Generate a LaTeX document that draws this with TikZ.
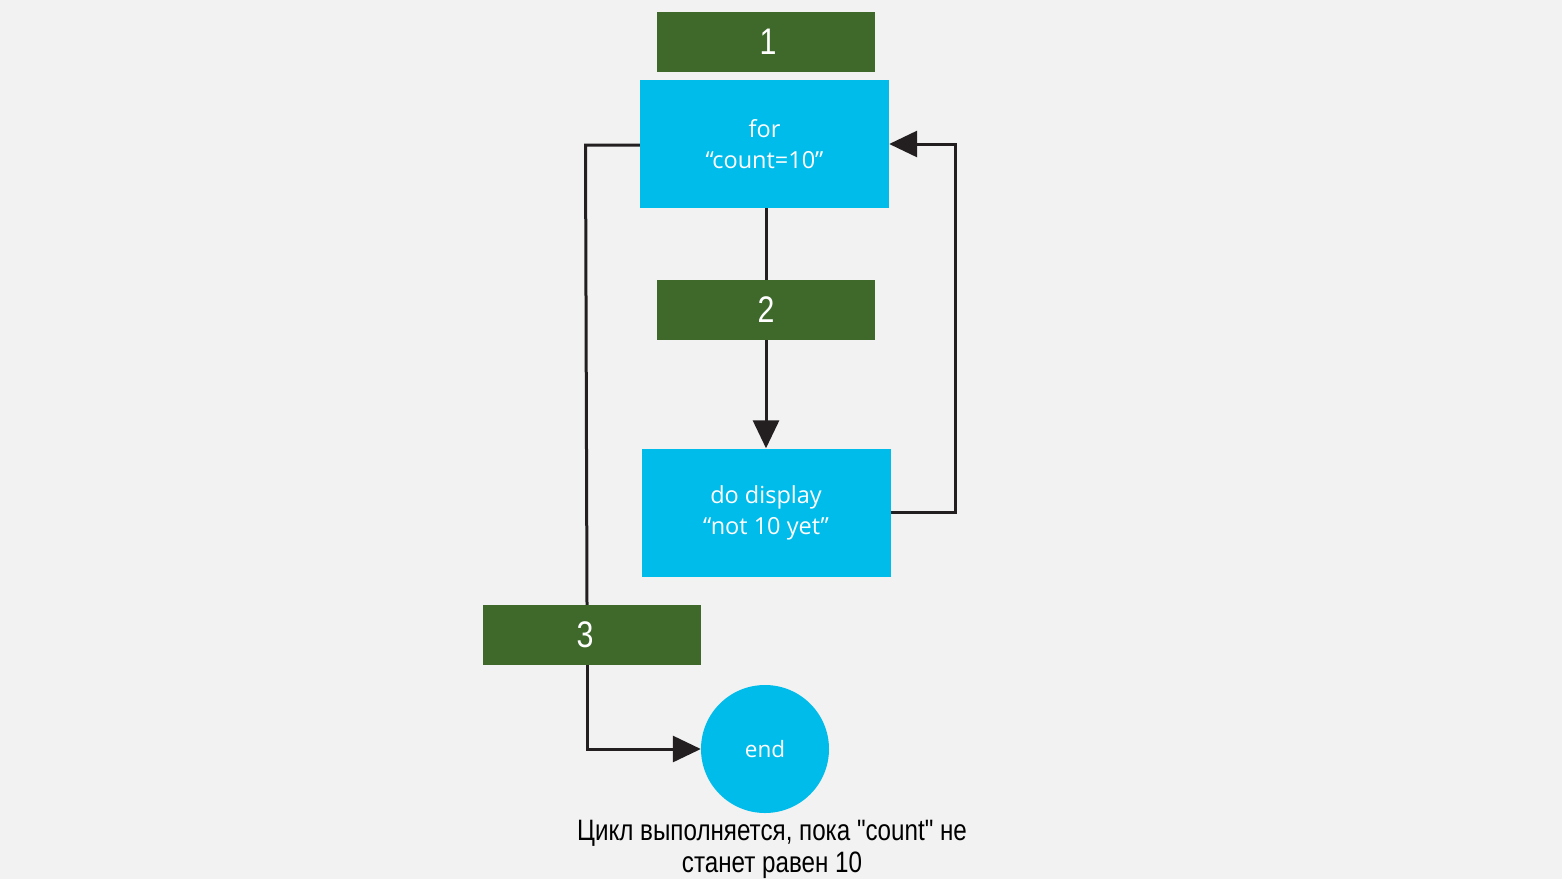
\documentclass[tikz,border=0pt]{standalone}
\usepackage{fontspec}
\setmainfont{Open Sans}
\newfontfamily\narrowfont[FakeStretch=0.82]{Liberation Sans}
\usetikzlibrary{arrows.meta,calc}
\definecolor{bgc}{HTML}{F2F2F2}
\definecolor{grn}{HTML}{3E692B}
\definecolor{cyn}{HTML}{00BCEB}
\definecolor{ln}{HTML}{231F20}
\tikzset{
  numbox/.style={fill=grn,minimum width=218pt,minimum height=60pt,inner sep=0pt,text=white,font=\narrowfont\fontsize{37}{40}\selectfont},
  stepbox/.style={fill=cyn,minimum width=249pt,minimum height=128pt,inner sep=0pt,text=white,align=center,font=\fontsize{23.5}{31}\selectfont},
  endcirc/.style={circle,fill=cyn,minimum size=128pt,inner sep=0pt,text=white,font=\fontsize{22.5}{26}\selectfont},
  conn/.style={draw=ln,line width=3pt},
  arr/.style={conn,-{Triangle[length=28pt,width=26pt]}},
}
\begin{document}
\begin{tikzpicture}[x=1pt,y=-1pt]
\fill[bgc] (0,0) rectangle (1562,879);
\useasboundingbox (0,0) rectangle (1562,879);
\node[numbox] (n1) at (766,42) {\hspace*{4pt}1};
\node[stepbox] (for) at (764.5,144) {for\\“count=10”};
\node[numbox] (n2) at (766,310) {2};
\node[stepbox] (disp) at (766,512.5) {do display\\“not 10 yet”};
\coordinate (lt) at (585.5,145);
\coordinate (lb) at (587,605);
\draw[conn] (for.west |- lt) -- (lt) -- (lb);
\node[numbox] (n3) at (592,635) {\hspace*{-14pt}3};
\node[endcirc] (end) at (765,749) {end};
\draw[conn] (for.south -| n2.north) -- (n2.north);
\draw[arr] (n2.south) -- (disp.north -| n2.south);
\draw[arr] (disp.east) -- ++(65,0) |- (for.east);
\draw[arr] ($(n3.south)+(-5,0)$) |- (end.west);
\node[font=\narrowfont\fontsize{29.5}{32}\selectfont,align=center,text=black,inner sep=0pt] (cap) at (772,849) {Цикл выполняется, пока "count" не\\станет равен 10};
\end{tikzpicture}
\end{document}
